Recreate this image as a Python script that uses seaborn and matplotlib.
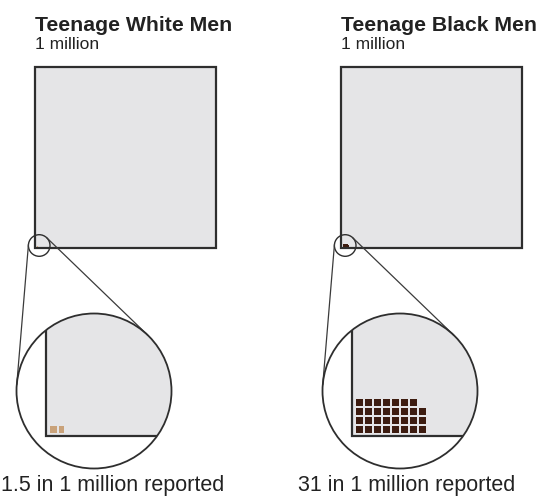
import numpy as np
import matplotlib.pyplot as plt
import seaborn as sns
from matplotlib.patches import Rectangle, Circle

# Data
groups = ['Teenage White Men', 'Teenage Black Men']
population = ['1 million', '1 million']
reported = [1.5, 31]
captions = ['1.5 in 1 million reported', '31 in 1 million reported']
unit_colors = ['#c9a27a', '#3d1c10']
per_row = 8

W, H = 542, 498
GRAY = '#e5e5e7'
EDGE = '#2e2e2e'

sns.set_theme(style='white')
plt.rcParams['font.family'] = ['Liberation Sans', 'DejaVu Sans']


def tangents(c1, r1, c2, r2):
    """External tangent segments between two circles."""
    c1, c2 = np.array(c1), np.array(c2)
    d = c2 - c1
    D = np.hypot(*d)
    u = d / D
    phi = np.arccos((r2 - r1) / D)
    segs = []
    for s in (1, -1):
        a = s * phi
        n = np.array([u[0] * np.cos(a) - u[1] * np.sin(a),
                      u[0] * np.sin(a) + u[1] * np.cos(a)])
        segs.append((c1 - r1 * n, c2 - r2 * n))
    return segs


def draw_units(ax, x0, y0, n, color, size=7.0, pitch_x=8.9, pitch_y=9.15,
               scale=1.0, zorder=3):
    """Unit squares filled from bottom-left, per_row per row."""
    full = int(np.floor(n))
    frac = n - full
    xs, ys, ws = [], [], []
    for i in range(full):
        xs.append(i % per_row)
        ys.append(i // per_row)
        ws.append(size)
    if frac > 0:
        xs.append(full % per_row)
        ys.append(full // per_row)
        ws.append(min(size, frac * pitch_x))
    xs = np.array(xs)
    ys = np.array(ys)
    left = x0 + xs * pitch_x * scale
    top = y0 - ys * pitch_y * scale - size * scale
    ax.bar(left, size * scale, width=np.array(ws) * scale, bottom=top,
           align='edge', color=color, linewidth=0, zorder=zorder)


fig = plt.figure(figsize=(W / 100, H / 100), dpi=100)
ax = fig.add_axes([0, 0, 1, 1])
ax.set_xlim(0, W)
ax.set_ylim(H, 0)
ax.axis('off')

for i, grp in enumerate(groups):
    dx = i * 306
    sq_x, sq_y, sq_s = 35 + dx, 67, 181

    # big square
    ax.add_patch(Rectangle((sq_x, sq_y), sq_s, sq_s, facecolor=GRAY,
                           edgecolor=EDGE, linewidth=1.6, zorder=1))
    # tiny footprint in the corner (no gaps at this scale)
    draw_units(ax, sq_x + 1.5, sq_y + sq_s - 1.0, reported[i], unit_colors[i],
               size=8.9, pitch_x=8.9, pitch_y=9.15, scale=0.085, zorder=2)

    # magnifier
    small_c, small_r = (sq_x + 4.2, 245.5), 10.8
    big_c, big_r = (94 + dx, 391), 77.5
    ax.add_patch(Circle(small_c, small_r, fill=False, edgecolor=EDGE,
                        linewidth=1.0, zorder=4))
    for p1, p2 in tangents(small_c, small_r, big_c, big_r):
        ax.plot([p1[0], p2[0]], [p1[1], p2[1]], color='#3a3a3a',
                linewidth=0.9, zorder=4)

    clip = Circle(big_c, big_r, facecolor='white', edgecolor='none', zorder=2)
    ax.add_patch(clip)
    cx, cy = 45.7 + dx, 436.3
    fill = Rectangle((cx, cy - 200), 300, 200, facecolor=GRAY,
                     edgecolor='none', zorder=2)
    ax.add_patch(fill)
    fill.set_clip_path(clip)
    corner, = ax.plot([cx, cx, cx + 300], [cy - 200, cy, cy], color=EDGE,
                      linewidth=1.6, zorder=3, solid_joinstyle='miter')
    corner.set_clip_path(clip)
    draw_units(ax, cx + 4.5, cy - 3.0, reported[i], unit_colors[i])
    ax.add_patch(Circle(big_c, big_r, fill=False, edgecolor=EDGE,
                        linewidth=1.3, zorder=5))

    # labels
    ax.text(sq_x, 31, grp, fontsize=15.3, fontweight='bold', va='baseline',
            color='#222222')
    ax.text(sq_x, 49, population[i], fontsize=12.5, va='baseline',
            color='#222222')

ax.text(224, 491, captions[0], fontsize=15.5, ha='right', va='baseline',
        color='#222222')
ax.text(298, 491, captions[1], fontsize=15.5, ha='left', va='baseline',
        color='#222222')

fig.savefig('out.png', dpi=100)
